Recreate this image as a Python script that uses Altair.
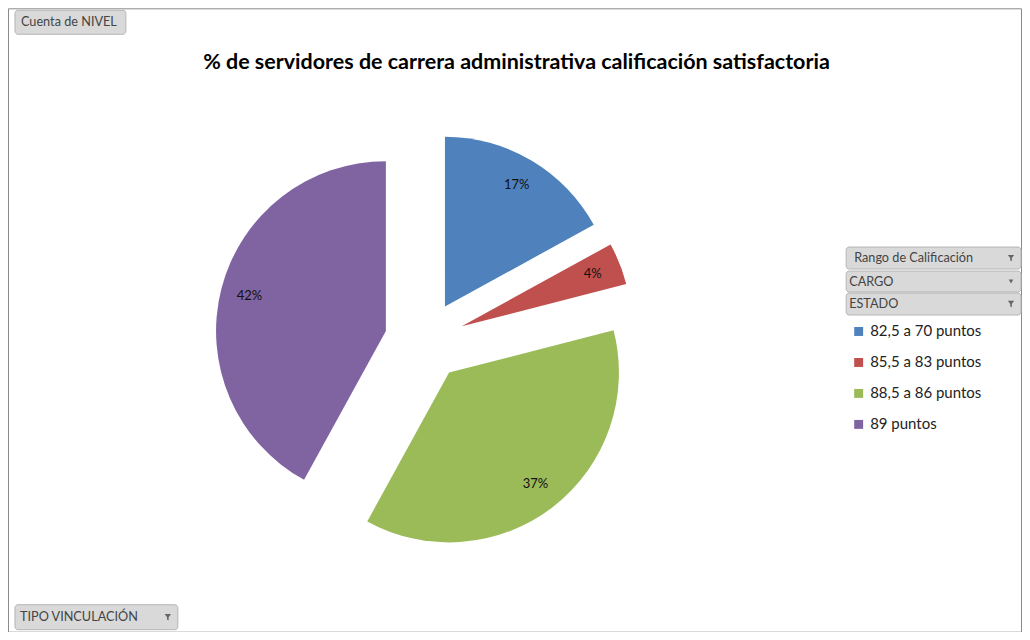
import altair as alt
import pandas as pd

categories = ["82,5 a 70 puntos", "85,5 a 83 puntos", "88,5 a 86 puntos", "89 puntos"]
values = [17, 4, 37, 42]
labels = ["17%", "4%", "37%", "42%"]
colors = ["#4F81BD", "#C0504D", "#9BBB59", "#8064A2"]
title_text = "% de servidores de carrera administrativa calificación satisfactoria"

W, H = 1014, 624
CX, CY, R = 417, 333, 170
EXPLODE = 40 / R
LABEL_R = EXPLODE + 141 / R
FONT = "Lato"

df = pd.DataFrame({"cat": categories, "val": values, "lab": labels, "ord": list(range(len(values)))})

xs = alt.Scale(domain=[-CX / R, (W - CX) / R], range=[0, W])
ys = alt.Scale(domain=[-(H - CY) / R, CY / R], range=[H, 0])
ts = alt.Scale(domain=[0, 100], range=[0, 6.283185307179586])

base = alt.Chart(df).transform_window(
    cum="sum(val)", sort=[alt.SortField("ord")], frame=[None, 0]
).transform_calculate(
    start="datum.cum - datum.val",
    mid="(datum.cum - datum.val / 2) / 100 * 2 * PI",
).transform_calculate(
    dx=f"{EXPLODE} * sin(datum.mid)",
    dy=f"{EXPLODE} * cos(datum.mid)",
    lx=f"{LABEL_R} * sin(datum.mid)",
    ly=f"{LABEL_R} * cos(datum.mid)",
)

pie = base.mark_arc(outerRadius=R).encode(
    x=alt.X("dx:Q", scale=xs, axis=None),
    y=alt.Y("dy:Q", scale=ys, axis=None),
    theta=alt.Theta("start:Q", scale=ts, stack=None),
    theta2="cum:Q",
    color=alt.Color(
        "cat:N",
        scale=alt.Scale(domain=categories, range=colors),
        legend=alt.Legend(
            title=None, orient="none", legendX=844, legendY=316,
            symbolType="square", symbolSize=80, symbolStrokeWidth=0,
            labelFont=FONT, labelFontSize=15, labelColor="#222",
            rowPadding=15, labelOffset=4,
        ),
    ),
)

text = base.mark_text(font=FONT, fontSize=13, color="#111").encode(
    x=alt.X("lx:Q", scale=xs, axis=None),
    y=alt.Y("ly:Q", scale=ys, axis=None),
    text="lab:N",
)

title = alt.Chart(pd.DataFrame({"t": [title_text]})).mark_text(
    font=FONT, fontSize=21.5, fontWeight="bold", color="#000", align="center", baseline="middle"
).encode(x=alt.value(509), y=alt.value(55), text="t:N")

# pivot-chart field buttons (decoration)
btn_names = ["Cuenta de NIVEL", "TIPO VINCULACIÓN", "Rango de Calificación", "CARGO", "ESTADO"]
btn_df = pd.DataFrame({
    "name": btn_names,
    "x0": [7, 7, 839, 839, 839],
    "x1": [118, 170, 1014, 1014, 1014],
    "y0": [2, 597, 239, 263, 285],
    "y1": [26, 622, 261, 284, 307],
    "pad": [6, 5, 8, 3, 3],
    "icon": ["", "filter", "filter", "drop", "filter"],
})
btn_df["tx"] = btn_df["x0"] + btn_df["pad"]
btn_df["ty"] = (btn_df["y0"] + btn_df["y1"]) / 2
btn_df["ix"] = btn_df["x1"] - 10

btn_rect = alt.Chart(btn_df).mark_rect(
    fill="#d9d9d9", stroke="#b5b5b5", strokeWidth=1, cornerRadius=3
).encode(
    x=alt.X("x0:Q", scale=None), x2="x1:Q",
    y=alt.Y("y0:Q", scale=None), y2="y1:Q",
)
btn_text = alt.Chart(btn_df).mark_text(
    font=FONT, fontSize=12.7, color="#444", align="left", baseline="middle"
).encode(x=alt.X("tx:Q", scale=None), y=alt.Y("ty:Q", scale=None), text="name:N")

funnel = alt.Chart(btn_df).transform_filter("datum.icon == 'filter'").mark_point(
    shape="M-1,-1L1,-1L0.25,0L0.25,1L-0.25,0.8L-0.25,0Z", filled=True, color="#333", size=40
).encode(x=alt.X("ix:Q", scale=None), y=alt.Y("ty:Q", scale=None))
drop = alt.Chart(btn_df).transform_filter("datum.icon == 'drop'").mark_point(
    shape="triangle-down", filled=True, color="#333", size=20
).encode(x=alt.X("ix:Q", scale=None), y=alt.Y("ty:Q", scale=None))

chart = alt.layer(pie, text, title, btn_rect, btn_text, funnel, drop).properties(
    width=W, height=H, padding=0, background="white"
).configure_view(stroke="#8a8a8a", strokeWidth=1)

chart.save("out.html", embed_options={"renderer": "svg", "actions": False})
